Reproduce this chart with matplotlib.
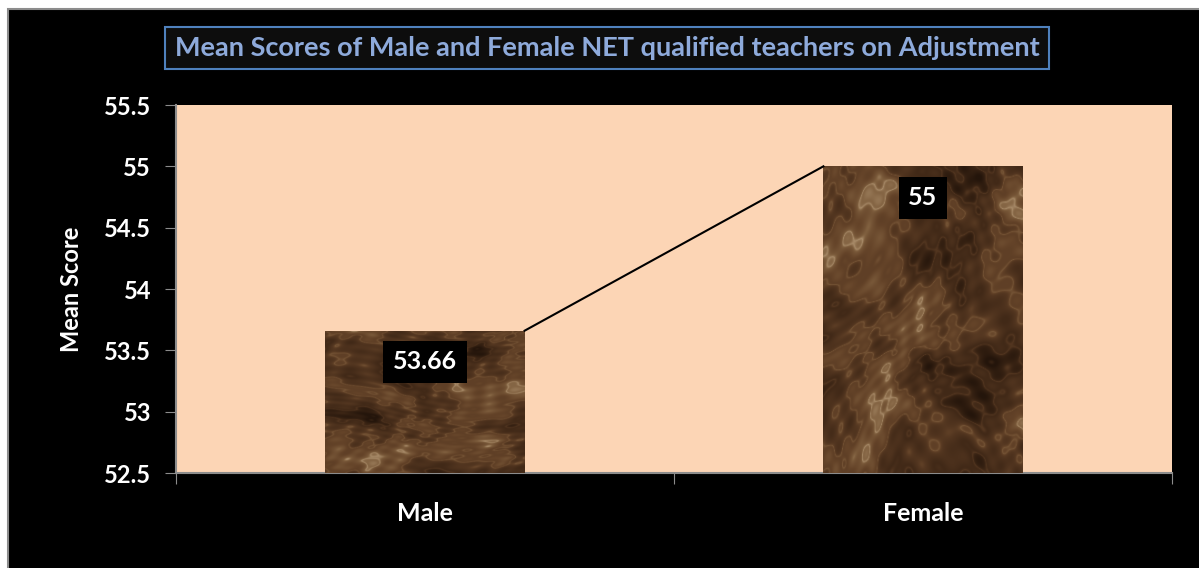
import numpy as np
import matplotlib
matplotlib.use("Agg")
import matplotlib.pyplot as plt
from matplotlib.patches import Rectangle
from matplotlib.colors import LinearSegmentedColormap

categories = ["Male", "Female"]
mean_scores = [53.66, 55.0]
label_texts = ["53.66", "55"]
y_ticks = [52.5, 53, 53.5, 54, 54.5, 55, 55.5]
y_tick_labels = ["52.5", "53", "53.5", "54", "54.5", "55", "55.5"]
title_text = "Mean Scores of Male and Female NET qualified teachers on Adjustment"
y_label = "Mean Score"

plt.rcParams['font.family'] = ['Lato', 'DejaVu Sans']
plt.rcParams['font.weight'] = 'bold'

W, H = 1199, 568
fig = plt.figure(figsize=(W / 100, H / 100), dpi=100, facecolor='white')

# black chart area with grey border on top/left
bg = Rectangle((8 / W, -0.01), 1.0, 1.01 - 9 / H, transform=fig.transFigure,
               facecolor='black', edgecolor='#8c8c8c', linewidth=1.5, zorder=-10)
fig.patches.append(bg)

ax = fig.add_axes([176 / W, 1 - 473 / H, (1172 - 176) / W, (473 - 105) / H])
ax.set_facecolor('#FCD5B5')

x = np.arange(len(categories))
bar_w = 0.4
bars = ax.bar(x, [v - 52.5 for v in mean_scores], bottom=52.5, width=bar_w,
              color='#4f3826', zorder=2)

# marble-like texture clipped to bars (styling only, deterministic)
cmap = LinearSegmentedColormap.from_list(
    'marble', ['#24150b', '#3a2414', '#4f331e', '#654429', '#80603f', '#a98c6a'])
gy, gx = np.mgrid[0:320, 0:220].astype(float)
angles = [0.3, 1.1, 1.9, 2.6, 0.7, 1.5, 2.3, 2.9, 0.1, 1.3]
freqs = [0.031, 0.043, 0.057, 0.071, 0.093, 0.117, 0.151, 0.197, 0.29, 0.41]
for i, b in enumerate(bars):
    ph = 2.3 * i + 0.4
    wx = gx + 14 * np.sin(gy * 0.021 + ph) + 9 * np.sin(gx * 0.033 + gy * 0.017)
    wy = gy + 14 * np.cos(gx * 0.025 - ph) + 9 * np.cos(gy * 0.029 - gx * 0.013)
    v = np.zeros_like(gx)
    for k, (a, f) in enumerate(zip(angles, freqs)):
        v += np.sin(f * (wx * np.cos(a + ph) + wy * np.sin(a + ph)) + k * 1.37 + ph) / (1 + 0.25 * k)
    v = (v - v.min()) / (v.max() - v.min())
    veins = 1 - np.abs(np.sin(v * 11.0))
    v = 0.8 * v + 0.2 * veins ** 4
    v = (v - v.min()) / (v.max() - v.min())
    im = ax.imshow(v, cmap=cmap, aspect='auto', zorder=3,
                   extent=[b.get_x(), b.get_x() + b.get_width(), 52.5, b.get_y() + b.get_height()],
                   interpolation='bilinear')
    im.set_clip_path(b)

# connecting line between bar tops
ax.plot([x[0] + bar_w / 2, x[1] - bar_w / 2], mean_scores, color='black', lw=1.5, zorder=4)

for xi, v, t in zip(x, mean_scores, label_texts):
    ax.annotate(t, (xi, v), xytext=(0, -22.5), textcoords='offset points',
                ha='center', va='center', color='white', fontsize=18, fontweight='bold',
                bbox=dict(boxstyle='square,pad=0.38', facecolor='black', edgecolor='none'),
                zorder=5)

ax.set_xlim(-0.5, 1.5)
ax.set_ylim(52.5, 55.5)
ax.set_yticks(y_ticks)
ax.set_yticklabels(y_tick_labels)
ax.set_xticks([-0.5, 0.5, 1.5])
ax.set_xticklabels([])
ax.set_xticks(x, minor=True)
ax.set_xticklabels(categories, minor=True)
ax.tick_params(axis='x', which='minor', length=0, pad=21, colors='white', labelsize=18)
ax.tick_params(axis='x', which='major', length=8, color='#8c8c8c', direction='out')
ax.tick_params(axis='y', length=8, color='#8c8c8c', direction='out', labelcolor='white',
               labelsize=17, pad=10)
for s in ['top', 'right']:
    ax.spines[s].set_visible(False)
for s in ['left', 'bottom']:
    ax.spines[s].set_color('#8c8c8c')
    ax.spines[s].set_linewidth(1.5)
ax.set_ylabel(y_label, color='white', fontsize=17, fontweight='bold', labelpad=15)

fig.text(607 / W, 1 - 48 / H, title_text, ha='center', va='center',
         color='#8EAADB', fontsize=19.5, fontweight='bold',
         bbox=dict(boxstyle='square,pad=0.35', facecolor='#0d0d0d', edgecolor='#4F81BD', linewidth=1.5))

fig.savefig('out.png', dpi=100, facecolor='white')
